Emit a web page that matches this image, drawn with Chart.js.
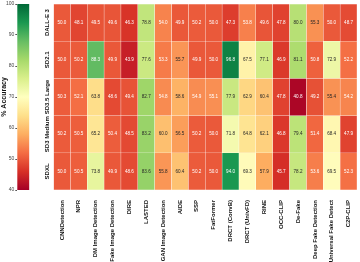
<!DOCTYPE html>
<html><head><meta charset="utf-8">
<script src="https://cdn.jsdelivr.net/npm/chart.js@4.4.1/dist/chart.umd.min.js"></script>
<style>
html,body{margin:0;padding:0;background:#fff;}
#wrap{position:relative;width:360px;height:262px;}
canvas{position:absolute;top:0;left:0;}
</style></head>
<body><div id="wrap">
<canvas id="main" width="360" height="262"></canvas>
<canvas id="cbar" width="30" height="262"></canvas>
</div>
<script>
const detectors = ["CNNDetection","NPR","DM Image Detection","Fake Image Detection","DIRE","LASTED","GAN Image Detection","AIDE","SSP","FatFormer","DRCT (ConvB)","DRCT (UnivFD)","RINE","OCC-CLIP","De-Fake","Deep Fake Detection","Universal Fake Detect","C2P-CLIP"];
const generators = ["DALL-E 3","SD2.1","SD3.5 Large","SD3 Medium","SDXL"];
const dalle3     = [50.0,48.1,49.5,49.6,46.3,78.8,54.0,49.9,50.2,50.0,47.3,53.8,49.6,47.8,80.0,55.3,50.0,48.7];
const sd21       = [50.0,50.2,88.3,49.9,43.9,77.6,53.3,55.7,49.9,50.0,96.8,67.5,77.1,46.9,81.1,50.8,72.9,52.2];
const sd35large  = [50.3,52.1,63.8,48.6,49.4,82.7,54.8,58.6,54.9,55.1,77.9,62.9,60.4,47.8,40.8,49.2,55.4,54.2];
const sd3medium  = [50.2,50.5,65.2,50.4,48.5,83.2,60.0,56.5,50.2,50.0,71.8,64.8,62.1,46.8,79.4,51.4,68.4,47.9];
const sdxl       = [50.0,50.5,73.8,49.9,48.6,83.6,55.8,60.4,50.2,50.0,94.0,69.3,57.9,45.7,78.2,53.6,69.5,52.3];
const rows = [dalle3, sd21, sd35large, sd3medium, sdxl];
const vmin = 40, vmax = 100;
const colorbarTicks = [40,50,60,70,80,90,100];

const RdYlGn = ["#a50026","#d73027","#f46d43","#fdae61","#fee08b","#ffffbf","#d9ef8b","#a6d96a","#66bd63","#1a9850","#006837"];
function hex2rgb(h){return [parseInt(h.substr(1,2),16),parseInt(h.substr(3,2),16),parseInt(h.substr(5,2),16)];}
const stops = RdYlGn.map(hex2rgb);
function cmap(v){
  let t = Math.max(0, Math.min(1, (v - vmin)/(vmax - vmin)));
  let p = t*(stops.length-1), i = Math.min(Math.floor(p), stops.length-2), f = p - i;
  const a = stops[i], b = stops[i+1];
  return [0,1,2].map(k => Math.round(a[k] + (b[k]-a[k])*f));
}
function rgbStr(c){return 'rgb('+c[0]+','+c[1]+','+c[2]+')';}
function lum(c){
  const l = c.map(x => { x/=255; return x <= 0.03928 ? x/12.92 : Math.pow((x+0.055)/1.055, 2.4); });
  return 0.2126*l[0] + 0.7152*l[1] + 0.0722*l[2];
}
const FONT = "'Liberation Sans', Arial, sans-serif";

const datasets = rows.map((vals, r) => ({
  label: generators[r],
  data: vals.map(() => [r, r+1]),
  values: vals,
  backgroundColor: vals.map(v => rgbStr(cmap(v))),
  borderColor: 'rgba(255,255,255,0.35)',
  borderWidth: 0.5,
  borderSkipped: false,
  grouped: false,
  barPercentage: 1,
  categoryPercentage: 1
}));

const cellLabels = {
  id: 'cellLabels',
  afterDatasetsDraw(chart) {
    const ctx = chart.ctx;
    ctx.save();
    ctx.font = "4.6px " + FONT;
    ctx.textAlign = 'center';
    ctx.textBaseline = 'middle';
    chart.data.datasets.forEach((ds, di) => {
      const meta = chart.getDatasetMeta(di);
      meta.data.forEach((el, i) => {
        const v = ds.values[i];
        ctx.fillStyle = lum(cmap(v)) > 0.408 ? '#262626' : '#ffffff';
        ctx.fillText(v.toFixed(1), el.x, (el.y + el.base)/2);
      });
    });
    const ys = chart.scales.y;
    ctx.font = "bold 6px " + FONT;
    ctx.fillStyle = '#111';
    generators.forEach((g, r) => {
      const yc = ys.getPixelForValue(r + 0.5);
      ctx.save();
      ctx.translate(chart.chartArea.left - 6, yc);
      ctx.rotate(-Math.PI/2);
      ctx.fillText(g, 0, 0);
      ctx.restore();
    });
    ctx.restore();
  }
};

new Chart(document.getElementById('main'), {
  type: 'bar',
  data: { labels: detectors, datasets },
  options: {
    responsive: false, animation: false,
    layout: { padding: { left: 53.5, right: 3, top: 4, bottom: 0 } },
    plugins: { legend: { display: false }, tooltip: { enabled: false } },
    scales: {
      x: {
        grid: { display: false }, border: { display: false },
        afterFit: s => { s.height = 72; },
        ticks: { autoSkip: false, minRotation: 90, maxRotation: 90, padding: 2,
                 color: '#111', font: { family: FONT, size: 6, weight: 'bold' } }
      },
      y: { type: 'linear', min: 0, max: generators.length, reverse: true, display: false }
    }
  },
  plugins: [cellLabels]
});

new Chart(document.getElementById('cbar'), {
  type: 'bar',
  data: { labels: ['cb'], datasets: [{
    data: [[vmin, vmax]],
    borderWidth: 0, barPercentage: 1, categoryPercentage: 1,
    backgroundColor: (c) => {
      const ca = c.chart.chartArea;
      if (!ca) return '#ffffbf';
      const g = c.chart.ctx.createLinearGradient(0, ca.bottom, 0, ca.top);
      RdYlGn.forEach((col, i) => g.addColorStop(i/(RdYlGn.length-1), col));
      return g;
    }
  }] },
  options: {
    responsive: false, animation: false,
    layout: { padding: { left: 0, right: 0.7, top: 4, bottom: 72 } },
    plugins: { legend: { display: false }, tooltip: { enabled: false } },
    scales: {
      x: { display: false },
      y: {
        min: vmin, max: vmax,
        afterBuildTicks: s => { s.ticks = colorbarTicks.map(v => ({ value: v })); },
        afterFit: s => { s.width = 17.3; },
        grid: { drawOnChartArea: false, tickLength: 2, color: '#555' },
        border: { display: false },
        ticks: { padding: 1, color: '#444', font: { family: FONT, size: 5 } },
        title: { display: true, text: '% Accuracy', padding: 0, color: '#111',
                 font: { family: FONT, size: 7, weight: 'bold' } }
      }
    }
  }
});
</script></body></html>
